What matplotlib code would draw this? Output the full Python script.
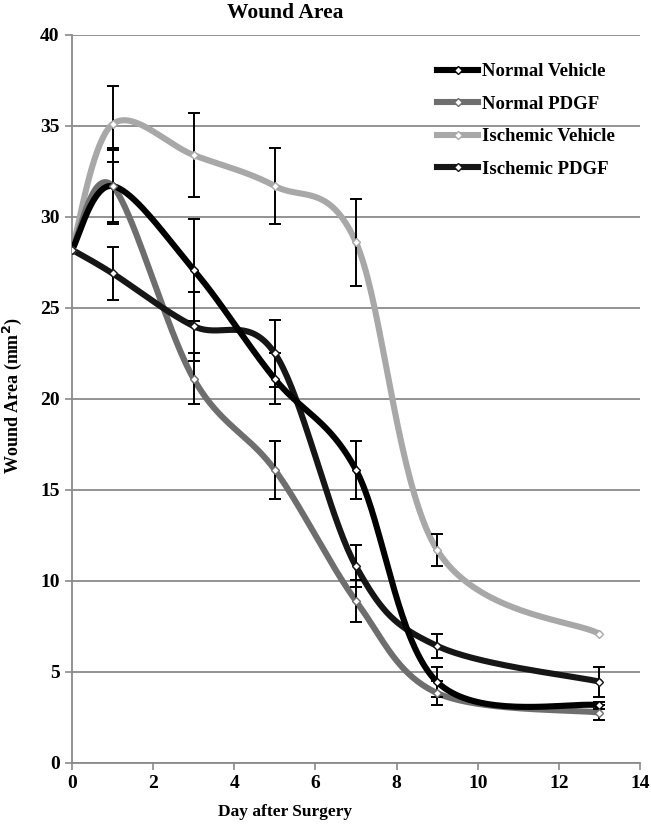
import numpy as np
import matplotlib
matplotlib.use('Agg')
from matplotlib import pyplot as plt
from matplotlib.lines import Line2D

# wound area over time, four groups
days = [0, 1, 3, 5, 7, 9, 13]

normal_vehicle = [28.2, 31.7, 27.1, 21.1, 16.1, 4.45, 3.17]
normal_vehicle_err = [0, 2.1, 2.8, 1.4, 1.6, 0.8, 0.2]

normal_pdgf = [28.2, 31.7, 21.1, 16.1, 8.9, 3.84, 2.77]
normal_pdgf_err = [0, 2.0, 1.4, 1.6, 1.17, 0.67, 0.4]

ischemic_vehicle = [28.2, 35.1, 33.4, 31.7, 28.6, 11.7, 7.1]
ischemic_vehicle_err = [0, 2.1, 2.3, 2.1, 2.4, 0.9, 0]

ischemic_pdgf = [28.2, 26.9, 24.0, 22.5, 10.8, 6.43, 4.47]
ischemic_pdgf_err = [0, 1.45, 1.9, 1.85, 1.15, 0.65, 0.83]

labels = ['Normal Vehicle', 'Normal PDGF', 'Ischemic Vehicle', 'Ischemic PDGF']
colors = ['#000000', '#6e6e6e', '#a8a8a8', '#161616']

plt.rcParams['font.family'] = ['Liberation Serif', 'DejaVu Serif']
plt.rcParams['font.weight'] = 'bold'
plt.rcParams['xtick.labelsize'] = 14
plt.rcParams['ytick.labelsize'] = 14


def smooth(xs, ys, n=40):
    # excel-like smoothed line (catmull-rom)
    p = np.column_stack([xs, ys]).astype(float)
    p = np.vstack([p[0], p, p[-1]])
    out = []
    t = np.linspace(0, 1, n)[:, None]
    for i in range(1, len(p) - 2):
        p0, p1, p2, p3 = p[i - 1], p[i], p[i + 1], p[i + 2]
        c1 = p1 + (p2 - p0) / 6
        c2 = p2 - (p3 - p1) / 6
        seg = ((1 - t) ** 3) * p1 + 3 * ((1 - t) ** 2) * t * c1 + 3 * (1 - t) * t ** 2 * c2 + t ** 3 * p2
        out.append(seg)
    out = np.vstack(out)
    return out[:, 0], out[:, 1]


fig = plt.figure(figsize=(6.51, 8.25), dpi=100)
ax = fig.add_axes([0.1106, 0.0752, 0.8725, 0.8824])

series = [normal_vehicle, normal_pdgf, ischemic_vehicle, ischemic_pdgf]
errs = [normal_vehicle_err, normal_pdgf_err, ischemic_vehicle_err, ischemic_pdgf_err]
zs = [2.8, 2.2, 2.1, 2.5]

for vals, err, col, z in zip(series, errs, colors, zs):
    sx, sy = smooth(days, vals)
    ax.plot(sx, sy, color=col, lw=4.4, solid_capstyle='round', zorder=z)
    idx = [i for i in range(len(days)) if err[i] > 0]
    ax.errorbar([days[i] for i in idx], [vals[i] for i in idx], yerr=[err[i] for i in idx],
                fmt='none', ecolor='black', elinewidth=1.4, capsize=4, capthick=1.4, zorder=3)
    ax.plot(days, vals, ls='none', marker='D', ms=4, mfc='white', mec=col, mew=1, zorder=4)

ax.set_xlim(0, 14)
ax.set_ylim(0, 40)
ax.set_xticks(range(0, 15, 2))
ax.set_xticklabels([str(v) for v in range(0, 15, 2)], fontsize=14, fontweight='bold')
ax.set_yticks(range(0, 41, 5))
ax.set_yticklabels([str(v) for v in range(0, 41, 5)], fontsize=14, fontweight='bold')
ax.yaxis.grid(True, color='#8a8a8a', lw=1.3)
ax.set_axisbelow(True)
for s in ['top', 'right']:
    ax.spines[s].set_visible(False)
for s in ['left', 'bottom']:
    ax.spines[s].set_color('#8a8a8a')
    ax.spines[s].set_linewidth(1.3)
ax.tick_params(axis='both', direction='out', length=5, width=1.2, color='#8a8a8a', pad=4)

handles = [Line2D([], [], color=c, lw=4.4, marker='D', ms=4, mfc='white', mec=c, mew=1)
           for c in colors]
leg = ax.legend(handles, labels, loc='upper left', bbox_to_anchor=(0.643, 0.961), frameon=False,
                fontsize=13.5, handlelength=2.2, handletextpad=0.2, labelspacing=0.82,
                borderaxespad=0, borderpad=0)
for t in leg.get_texts():
    t.set_fontweight('bold')

fig.text(0.438, 0.984, 'Wound Area', ha='center', va='center', fontsize=15.5, fontweight='bold')
fig.text(0.438, 0.016, 'Day after Surgery', ha='center', va='center', fontsize=12.5, fontweight='bold')
fig.text(0.019, 0.521, 'Wound Area (mm$^\\mathbf{2}$)', ha='center', va='center', rotation=90,
         fontsize=13, fontweight='bold')

fig.savefig('out.png', dpi=100)
